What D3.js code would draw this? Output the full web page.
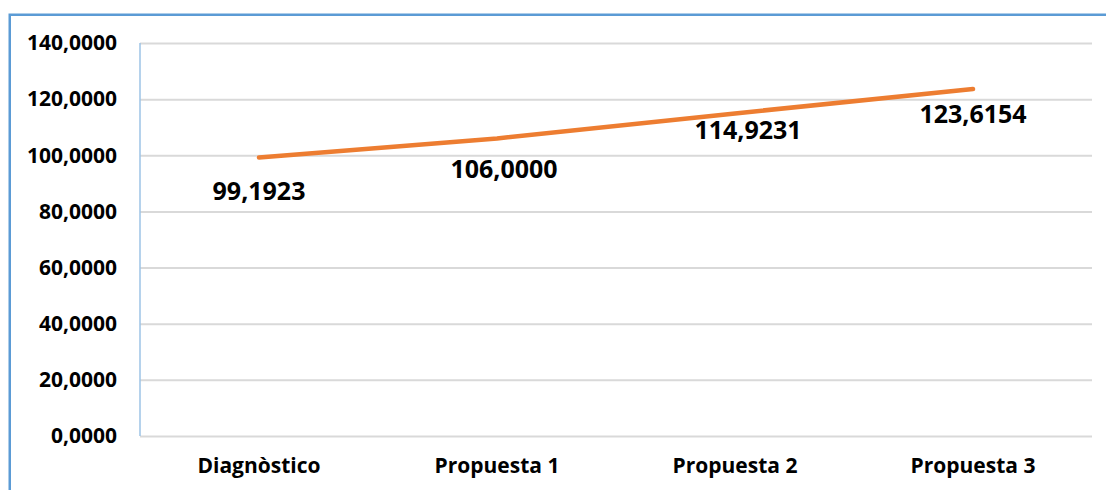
<!DOCTYPE html>
<html>
  <body style="margin:0;background:#fff">
    <style>
      svg text {
        font-family: 'Open Sans', 'Liberation Sans', sans-serif;
        font-weight: bold;
        fill: #000;
      }
    </style>
    <script src="https://d3js.org/d3.v7.min.js"></script>
    <script type="text/javascript">
      const maxWidth = 1106;
      const maxHeight = 490;
      const margin = {
        top: 43,
        right: 14,
        bottom: 54,
        left: 140,
      };
      const categories = ['Diagnòstico', 'Propuesta 1', 'Propuesta 2', 'Propuesta 3'];
      const values = [99.1923, 106.0, 114.9231, 123.6154];
      const yTicks = [0, 20, 40, 60, 80, 100, 120, 140];
      // label placement relative to each point (hand placed in the original)
      const labelNudge = [[0, 42], [7, 40], [13, 26], [0, 34]];

      const fmt = (v) => d3.format('.4f')(v).replace('.', ',');

      const svg = d3.select('body')
        .append('svg')
        .attr('width', maxWidth)
        .attr('height', maxHeight)

      // chart frame
      svg.append('rect')
        .attr('x', 9.75)
        .attr('y', 14.75)
        .attr('width', maxWidth + 20)
        .attr('height', maxHeight + 20)
        .attr('fill', 'none')
        .attr('stroke', '#5b9bd5')
        .attr('stroke-width', 2.5)

      const scaleX = d3.scaleBand()
        .domain(categories)
        .range([margin.left, maxWidth - margin.right])
      const scaleY = d3.scaleLinear()
        .domain([0, 140])
        .range([maxHeight - margin.bottom, margin.top])

      // gridlines + y labels
      const axisLeft = d3.axisLeft(scaleY)
        .tickValues(yTicks)
        .tickSize(-(maxWidth - margin.right - margin.left))
        .tickPadding(23)
        .tickFormat(fmt);
      const gy = svg.append('g')
        .attr('transform', `translate(${margin.left}, 0)`)
        .call(axisLeft);
      gy.select('.domain').remove();
      gy.selectAll('.tick line')
        .attr('stroke', '#d9d9d9')
        .attr('stroke-width', 2)
      gy.selectAll('.tick text')
        .attr('font-size', 21)

      // vertical axis line
      svg.append('line')
        .attr('x1', margin.left)
        .attr('x2', margin.left)
        .attr('y1', scaleY(140))
        .attr('y2', scaleY(0))
        .attr('stroke', '#9dc3e6')
        .attr('stroke-width', 1.5)

      const axisBottom = d3.axisBottom(scaleX).tickSize(0).tickPadding(22);
      const gx = svg.append('g')
        .attr('transform', `translate(0, ${scaleY(0)})`)
        .call(axisBottom);
      gx.select('.domain').remove();
      gx.selectAll('.tick text')
        .attr('font-size', 21)

      const cx = (d, i) => scaleX(categories[i]) + scaleX.bandwidth() / 2;

      const line = d3.line()
        .x((d, i) => cx(d, i))
        .y((d) => scaleY(d));
      svg.append('path')
        .datum(values)
        .attr('d', line)
        .attr('fill', 'none')
        .attr('stroke', '#ed7d31')
        .attr('stroke-width', 4.5)
        .attr('stroke-linecap', 'round')
        .attr('stroke-linejoin', 'round')

      svg.selectAll('.lbl')
        .data(values)
        .enter()
        .append('text')
        .attr('class', 'lbl')
        .attr('x', (d, i) => cx(d, i) + labelNudge[i][0])
        .attr('y', (d, i) => scaleY(d) + labelNudge[i][1])
        .attr('text-anchor', 'middle')
        .attr('font-size', 25)
        .text(fmt)
    </script>
  </body>
</html>
